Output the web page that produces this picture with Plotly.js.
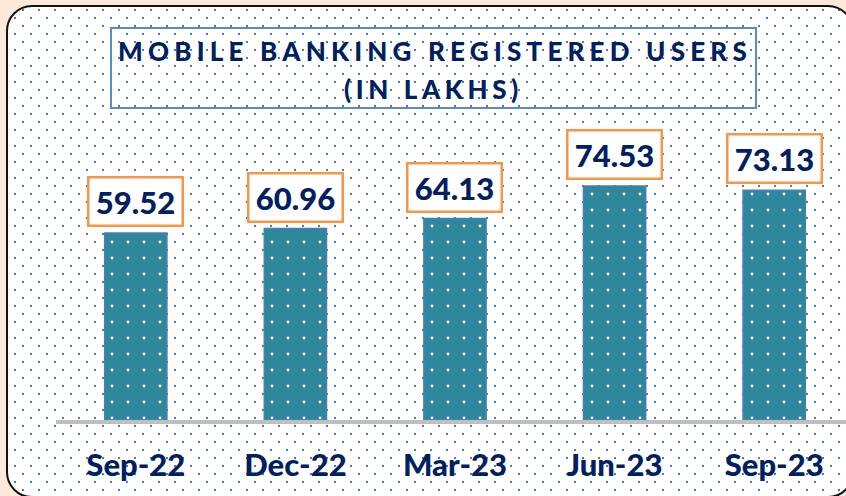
<!DOCTYPE html>
<html>
<head>
<meta charset="utf-8">
<script src="https://cdn.plot.ly/plotly-3.0.1.min.js"></script>
<style>
  html, body { margin: 0; padding: 0; width: 846px; height: 496px; overflow: hidden; background: #fde9d9; }
  #frame {
    position: absolute; left: 6px; top: 5px; width: 844px; height: 489px;
    border: 2px solid #111; border-radius: 26px; background-color: #ffffff;
    background-image: url("data:image/svg+xml;utf8,<svg xmlns='http://www.w3.org/2000/svg' width='16' height='16'><rect x='14' y='2' width='2' height='2' fill='%234a7ebb'/><rect x='6' y='10' width='2' height='2' fill='%234a7ebb'/></svg>");
    background-size: 16px 16px;
  }
  #chart { position: absolute; left: 0; top: 0; width: 846px; height: 496px; }
  .gtitle { letter-spacing: 5.2px; }
  .annotation[data-index="5"] text { letter-spacing: 4.6px; }
</style>
</head>
<body>
<div id="frame"></div>
<div id="chart"></div>
<script>
const categories = ["Sep-22", "Dec-22", "Mar-23", "Jun-23", "Sep-23"];
const users = [59.52, 60.96, 64.13, 74.53, 73.13];
const titleLine1 = "MOBILE BANKING REGISTERED USERS";
const titleLine2 = "(IN LAKHS)";

const navy = "#002060";
const barColor = "#2e879b";

const trace = {
  type: "bar",
  x: categories,
  y: users,
  width: 0.39,
  marker: {
    color: barColor,
    line: { color: "#4a7ebb", width: 1.5 },
    pattern: { shape: ".", fgcolor: "#ffffff", bgcolor: barColor, fgopacity: 1, size: 16, solidity: 0.025, fillmode: "replace" }
  },
  hoverinfo: "x+y"
};

const annotations = categories.map((c, i) => ({
  x: c, y: users[i], xref: "x", yref: "y",
  text: users[i].toFixed(2),
  showarrow: false, yanchor: "bottom", yshift: 6,
  font: { family: "Lato, 'Open Sans', sans-serif", size: 31, color: navy, weight: 900 },
  bgcolor: "#ffffff", bordercolor: "#f79646", borderwidth: 2.5, borderpad: 3,
  width: 86, height: 40
}));
annotations.push({
  text: titleLine2, xref: "paper", yref: "paper",
  x: (433 - 56) / 790, y: (420 - 89) / 250,
  xanchor: "center", yanchor: "middle", showarrow: false,
  font: { family: "Lato, sans-serif", size: 26, color: navy, weight: 900 }
});

const layout = {
  width: 846, height: 496,
  margin: { l: 56, r: 0, t: 170, b: 76 },
  paper_bgcolor: "rgba(0,0,0,0)",
  plot_bgcolor: "rgba(0,0,0,0)",
  showlegend: false,
  title: {
    text: titleLine1,
    xref: "container", yref: "container",
    x: 435 / 846, y: 1 - 52 / 496, xanchor: "center", yanchor: "middle",
    font: { family: "Lato, sans-serif", size: 26, color: navy, weight: 900 }
  },
  xaxis: {
    type: "category",
    range: [-0.5, 4.45],
    showgrid: false, zeroline: false,
    showline: true, linecolor: "#bfbfbf", linewidth: 3.5,
    ticks: "", ticklabelstandoff: 15,
    tickfont: { family: "Lato, sans-serif", size: 31, color: navy, weight: 900 }
  },
  yaxis: {
    range: [0, 79.6],
    visible: false, showgrid: false, zeroline: false
  },
  shapes: [{
    type: "rect", xref: "paper", yref: "paper",
    x0: (111 - 56) / 790, x1: (756 - 56) / 790,
    y0: (420 - 108) / 250, y1: (420 - 28) / 250,
    line: { color: "#5b8bc9", width: 2 }, fillcolor: "rgba(0,0,0,0)"
  }],
  annotations: annotations
};

Plotly.newPlot("chart", [trace], layout, { displayModeBar: false, staticPlot: true });
</script>
</body>
</html>
